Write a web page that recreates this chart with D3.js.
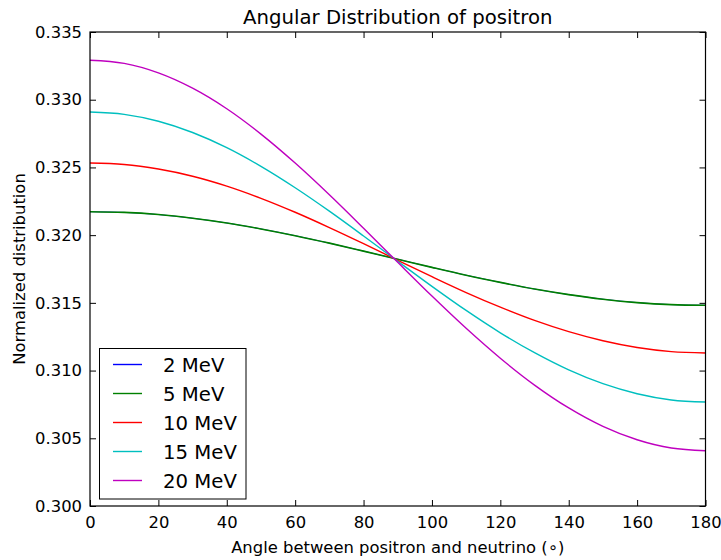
<!DOCTYPE html>
<html>
<head>
<meta charset="utf-8">
<script src="https://cdn.jsdelivr.net/npm/d3@7"></script>
<style>
  html, body { margin: 0; padding: 0; background: #fff; }
  svg { display: block; font-family: "DejaVu Sans", sans-serif; }
</style>
</head>
<body>
<svg id="chart" width="721" height="560"></svg>
<script>
// Angle between positron and neutrino, degrees
const angles = [0, 10, 20, 30, 40, 50, 60, 70, 80, 90, 100, 110, 120, 130, 140, 150, 160, 170, 180];

const seriesNames = ["2 MeV", "5 MeV", "10 MeV", "15 MeV", "20 MeV"];
const seriesColors = ["#0000ff", "#008000", "#ff0000", "#00bfbf", "#bf00bf"];

// Normalized distribution for each neutrino energy
const mev2 = [0.32173, 0.32168, 0.32152, 0.32125, 0.32090, 0.32046, 0.31996, 0.31941, 0.31882, 0.31822, 0.31762, 0.31704, 0.31651, 0.31602, 0.31561, 0.31527, 0.31502, 0.31487, 0.31482];
const mev5 = [0.32173, 0.32168, 0.32152, 0.32125, 0.32090, 0.32046, 0.31996, 0.31941, 0.31882, 0.31822, 0.31762, 0.31704, 0.31651, 0.31602, 0.31561, 0.31527, 0.31502, 0.31487, 0.31482];
const mev10 = [0.32533, 0.32522, 0.32488, 0.32435, 0.32362, 0.32272, 0.32169, 0.32056, 0.31937, 0.31814, 0.31693, 0.31576, 0.31468, 0.31370, 0.31287, 0.31220, 0.31170, 0.31140, 0.31130];
const mev15 = [0.32909, 0.32892, 0.32841, 0.32758, 0.32646, 0.32508, 0.32350, 0.32177, 0.31994, 0.31807, 0.31622, 0.31444, 0.31279, 0.31132, 0.31005, 0.30903, 0.30829, 0.30783, 0.30768];
const mev20 = [0.33291, 0.33268, 0.33198, 0.33085, 0.32933, 0.32746, 0.32532, 0.32298, 0.32051, 0.31799, 0.31550, 0.31312, 0.31091, 0.30893, 0.30724, 0.30588, 0.30489, 0.30428, 0.30408];

const xTicks = [0, 20, 40, 60, 80, 100, 120, 140, 160, 180];
const yTicks = [0.300, 0.305, 0.310, 0.315, 0.320, 0.325, 0.330, 0.335];

const seriesValues = [mev2, mev5, mev10, mev15, mev20];

const svg = d3.select("#chart");
const plotLeft = 90, plotRight = 705.5, plotTop = 32, plotBottom = 506;

const x = d3.scaleLinear().domain([0, 180]).range([plotLeft, plotRight]);
const y = d3.scaleLinear().domain([0.300, 0.335]).range([plotBottom, plotTop]);

const tickLen = 6;
const tickFont = 16.4;

// axes with inward ticks on all four sides
const axisB = d3.axisBottom(x).tickValues(xTicks).tickFormat(d3.format("d")).tickSizeInner(-tickLen).tickSizeOuter(0).tickPadding(10);
const axisT = d3.axisTop(x).tickValues(xTicks).tickFormat("").tickSizeInner(-tickLen).tickSizeOuter(0);
const axisL = d3.axisLeft(y).tickValues(yTicks).tickFormat(d3.format(".3f")).tickSizeInner(-tickLen).tickSizeOuter(0).tickPadding(8);
const axisR = d3.axisRight(y).tickValues(yTicks).tickFormat("").tickSizeInner(-tickLen).tickSizeOuter(0);

// data lines (clipped to the plot area); the 2 MeV curve sits underneath the 5 MeV one
svg.append("clipPath").attr("id", "plotclip")
  .append("rect").attr("x", plotLeft).attr("y", plotTop)
  .attr("width", plotRight - plotLeft).attr("height", plotBottom - plotTop);

const line = d3.line()
  .x((d, i) => x(angles[i]))
  .y(d => y(d))
  .curve(d3.curveMonotoneX);

const lineWidths = [0.8, 1.6, 1.4, 1.4, 1.4];

const lines = svg.append("g").attr("clip-path", "url(#plotclip)");
seriesValues.forEach((vals, k) => {
  lines.append("path")
    .datum(vals)
    .attr("d", line)
    .attr("fill", "none")
    .attr("stroke", seriesColors[k])
    .attr("stroke-width", lineWidths[k]);
});

function styleAxis(g) {
  g.selectAll(".domain").remove();
  g.selectAll(".tick line").attr("stroke", "#000").attr("stroke-width", 1);
  g.selectAll(".tick text").attr("fill", "#000").attr("font-size", tickFont).attr("font-family", "DejaVu Sans, sans-serif");
}

svg.append("g").attr("transform", `translate(0,${plotBottom})`).call(axisB).call(styleAxis);
svg.append("g").attr("transform", `translate(0,${plotTop})`).call(axisT).call(styleAxis);
svg.append("g").attr("transform", `translate(${plotLeft},0)`).call(axisL).call(styleAxis);
svg.append("g").attr("transform", `translate(${plotRight},0)`).call(axisR).call(styleAxis);

// frame
svg.append("rect")
  .attr("x", plotLeft).attr("y", plotTop)
  .attr("width", plotRight - plotLeft).attr("height", plotBottom - plotTop)
  .attr("fill", "none").attr("stroke", "#000").attr("stroke-width", 1.2);

// title and axis labels
svg.append("text")
  .attr("x", (plotLeft + plotRight) / 2).attr("y", 24)
  .attr("text-anchor", "middle").attr("font-size", 19.7).attr("fill", "#000")
  .text("Angular Distribution of positron");

svg.append("text")
  .attr("x", (plotLeft + plotRight) / 2).attr("y", 553)
  .attr("text-anchor", "middle").attr("font-size", 16.4).attr("fill", "#000")
  .text("Angle between positron and neutrino (\u2218)");

svg.append("text")
  .attr("transform", `translate(25,${(plotTop + plotBottom) / 2}) rotate(-90)`)
  .attr("text-anchor", "middle").attr("font-size", 16.4).attr("fill", "#000")
  .text("Normalized distribution");

// legend
const legend = svg.append("g");
legend.append("rect")
  .attr("x", 99.5).attr("y", 348.5).attr("width", 146.5).attr("height", 150.5)
  .attr("fill", "#fff").attr("stroke", "#000").attr("stroke-width", 1);

seriesNames.forEach((name, k) => {
  const cy = 364.5 + k * 29;
  legend.append("line")
    .attr("x1", 113).attr("x2", 142).attr("y1", cy).attr("y2", cy)
    .attr("stroke", seriesColors[k]).attr("stroke-width", 1.4);
  legend.append("text")
    .attr("x", 163).attr("y", cy + 7)
    .attr("font-size", 19.7).attr("fill", "#000")
    .text(name);
});
</script>
</body>
</html>
